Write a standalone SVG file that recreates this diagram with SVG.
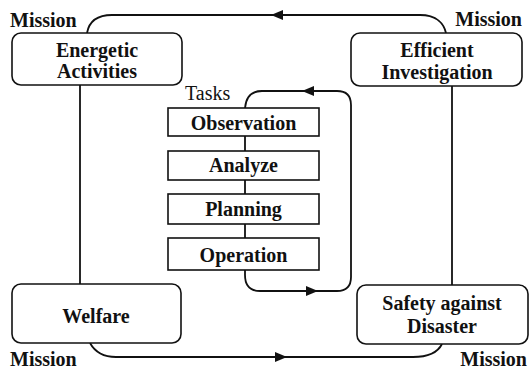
<svg xmlns="http://www.w3.org/2000/svg" width="531" height="371" viewBox="0 0 531 371">
  <style>
    .box { fill: #ffffff; stroke: #111111; stroke-width: 1.6; }
    .link { fill: none; stroke: #111111; stroke-width: 1.8; }
    text { font-family: 'Liberation Serif', 'Times New Roman', 'DejaVu Serif', serif; font-size: 20px; font-weight: bold; fill: #111111; }
    .lbl { text-anchor: middle; }
    .head { fill: #111111; stroke: none; }
  </style>
  <rect width="531" height="371" fill="#ffffff"/>

  <!-- connectors -->
  <g id="connectors">
    <!-- outer mission cycle -->
    <path class="link" d="M87,33 C89,22 97,15 112,15 L420,15 C437,15 444,24 446,33"/>
    <path class="link" d="M80,85 L80,284"/>
    <path class="link" d="M452,86 L452,285"/>
    <path class="link" d="M90,343 C95,352 104,357 116,357 L413,357 C428,357 438,352 442,344"/>
    <polygon class="head" points="271,15 283,10 283,20"/>
    <polygon class="head" points="287,357 275,352 275,362"/>
    <!-- task chain -->
    <path class="link" d="M245,136 L245,151 M245,180 L245,194 M245,224 L245,238"/>
    <!-- task loop -->
    <path class="link" d="M245,108 C246,97 251,91 262,91 L337,91 C346,91 351,96 351,105 L351,277 C351,286 346,291 337,291 L260,291 C250,291 245,285 245,275 L245,270"/>
    <polygon class="head" points="302,91 314,86 314,96"/>
    <polygon class="head" points="318,291 306,286 306,296"/>
  </g>

  <!-- mission nodes -->
  <g id="energetic-activities" font-family="Liberation Serif, serif">
    <rect class="box" x="12" y="33" width="170" height="52" rx="9"/>
    <text class="lbl" x="97" y="57">Energetic</text>
    <text class="lbl" x="97" y="78">Activities</text>
  </g>
  <g id="efficient-investigation">
    <rect class="box" x="351" y="33" width="171" height="53" rx="9"/>
    <text class="lbl" x="437" y="57">Efficient</text>
    <text class="lbl" x="437" y="79">Investigation</text>
  </g>
  <g id="welfare">
    <rect class="box" x="12" y="284" width="169" height="59" rx="9"/>
    <text class="lbl" x="96" y="323">Welfare</text>
  </g>
  <g id="safety-against-disaster">
    <rect class="box" x="357" y="285" width="171" height="59" rx="9"/>
    <text class="lbl" x="442" y="310">Safety against</text>
    <text class="lbl" x="442" y="333">Disaster</text>
  </g>

  <!-- task nodes -->
  <g id="observation">
    <rect class="box" x="168" y="108" width="151" height="28"/>
    <text class="lbl" x="243.5" y="130">Observation</text>
  </g>
  <g id="analyze">
    <rect class="box" x="168" y="151" width="151" height="29"/>
    <text class="lbl" x="243.5" y="172">Analyze</text>
  </g>
  <g id="planning">
    <rect class="box" x="168" y="194" width="151" height="30"/>
    <text class="lbl" x="243.5" y="216">Planning</text>
  </g>
  <g id="operation">
    <rect class="box" x="168" y="238" width="151" height="32"/>
    <text class="lbl" x="243.5" y="262">Operation</text>
  </g>

  <!-- section labels -->
  <g id="labels">
    <text x="10" y="27">Mission</text>
    <text x="522" y="26" text-anchor="end">Mission</text>
    <text x="10" y="366">Mission</text>
    <text x="527" y="366" text-anchor="end">Mission</text>
    <text x="185" y="100" style="font-weight: normal">Tasks</text>
  </g>
</svg>
